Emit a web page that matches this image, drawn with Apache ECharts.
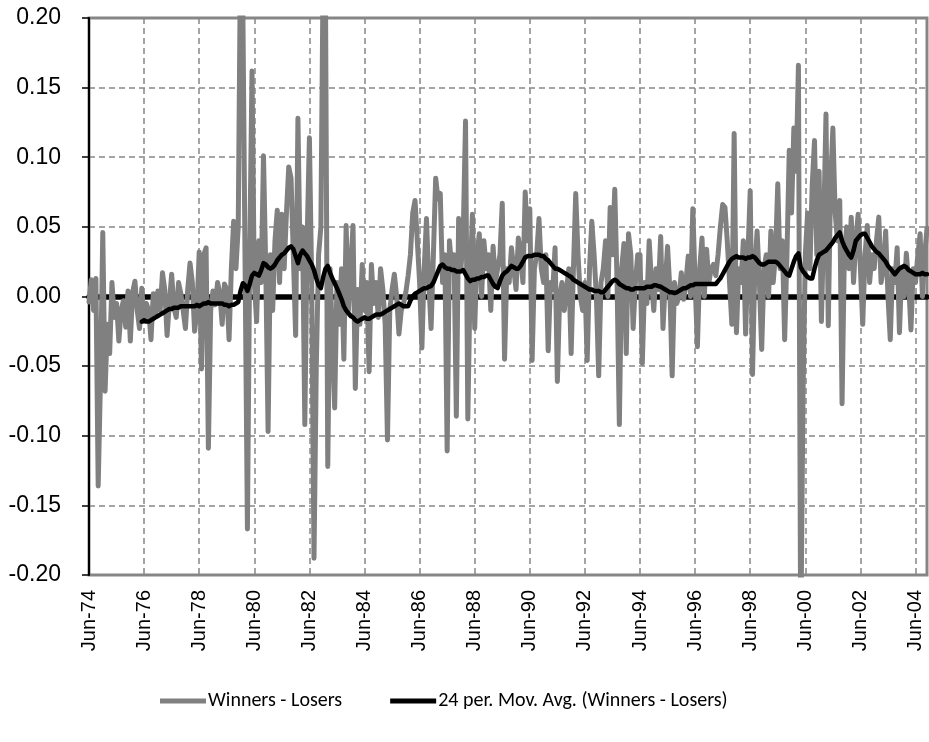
<!DOCTYPE html>
<html><head><meta charset="utf-8">
<script src="https://cdn.jsdelivr.net/npm/echarts@6/dist/echarts.min.js"></script>
<style>html,body{margin:0;padding:0;background:#fff}#chart{width:929px;height:742px}</style>
</head><body><div id="chart"></div>
<script>
// ---- categories (monthly, Jun-74 .. Nov-04) ----
const monthNames = ['Jan','Feb','Mar','Apr','May','Jun','Jul','Aug','Sep','Oct','Nov','Dec'];
const startYear = 1974, startMonthIdx = 5, monthCount = 366;
const categories = [];
for (let i = 0; i < monthCount; i++) {
  const t = startMonthIdx + i;
  const yy = (startYear + Math.floor(t / 12)) % 100;
  categories.push(monthNames[t % 12] + '-' + String(yy).padStart(2, '0'));
}
const tickLabels = ['Jun-74','Jun-76','Jun-78','Jun-80','Jun-82','Jun-84','Jun-86','Jun-88','Jun-90','Jun-92','Jun-94','Jun-96','Jun-98','Jun-00','Jun-02','Jun-04'];
const yTicks = [-0.20,-0.15,-0.10,-0.05,0.00,0.05,0.10,0.15,0.20];

// ---- series: Winners - Losers (monthly) ----
const winnersLosers = [
  -0.004, 0.012,-0.010, 0.013,-0.136,-0.060, 0.046,-0.068,-0.020,-0.041, 0.010,-0.015,
  -0.005,-0.032,-0.010,-0.003,-0.022, 0.004,-0.032, 0.003, 0.011,-0.010,-0.023, 0.006,
  -0.018,-0.005,-0.010,-0.031, 0.002,-0.012, 0.004,-0.010, 0.017, 0.005,-0.028,-0.005,
   0.016,-0.008,-0.015, 0.010, 0.002,-0.010,-0.023, 0.005, 0.024, 0.010,-0.025,-0.010,
   0.032,-0.052, 0.030, 0.035,-0.109,-0.010, 0.004,-0.006, 0.010, 0.002,-0.020, 0.009,
   0.005,-0.031, 0.020, 0.054, 0.020, 0.050, 0.250, 0.210, 0.020,-0.167, 0.030, 0.162,
   0.010,-0.018, 0.040, 0.010, 0.101, 0.020,-0.097, 0.030,-0.010, 0.040, 0.062, 0.010,
   0.059, 0.020, 0.060, 0.093, 0.085, 0.030,-0.028, 0.128, 0.020, 0.050,-0.092, 0.040,
   0.114, 0.010,-0.188,-0.050, 0.030, 0.050, 0.240, 0.220,-0.122, 0.020,-0.030,-0.080,
   0.010,-0.020, 0.020,-0.045, 0.051,-0.010, 0.020, 0.051,-0.066, 0.005,-0.020, 0.023,
  -0.010, 0.010,-0.054, 0.023,-0.005, 0.010,-0.015, 0.020, 0.005,-0.020,-0.103,-0.010,
   0.005, 0.016, 0.000,-0.027,-0.010,-0.005, 0.003, 0.015, 0.030, 0.060, 0.069, 0.040,
   0.010,-0.037, 0.020, 0.056, 0.010,-0.023, 0.030, 0.085, 0.070, 0.074, 0.010, 0.030,
  -0.111, 0.040, 0.020, 0.030,-0.086, 0.056, 0.020, 0.045, 0.126,-0.088, 0.010, 0.059,
  -0.023, 0.030, 0.045, 0.000, 0.040, 0.020, 0.030,-0.010, 0.036, 0.010, 0.020, 0.030,
   0.067,-0.045, 0.020, 0.010, 0.035, 0.020, 0.005, 0.042, 0.030, 0.010, 0.075, 0.040,
   0.063,-0.046, 0.020, 0.030, 0.056, 0.020, 0.010, 0.030,-0.039, 0.010, 0.005, 0.035,
  -0.061, 0.000, 0.010,-0.010, 0.005, 0.020,-0.041, 0.020, 0.074, 0.030, 0.000,-0.010,
   0.010,-0.046, 0.020, 0.054, 0.030, 0.000,-0.057, 0.010, 0.020, 0.040, 0.000, 0.064,
   0.030, 0.077, 0.010,-0.092, 0.020, 0.038,-0.041, 0.045, 0.030,-0.023, 0.010, 0.030,
   0.030,-0.048, 0.010,-0.005, 0.040, 0.010,-0.010, 0.020, 0.005, 0.043,-0.023, 0.010,
   0.036, 0.005,-0.057, 0.010,-0.005, 0.000, 0.017,-0.002, 0.010, 0.029, 0.000, 0.063,
   0.010,-0.036, 0.020, 0.042, 0.000, 0.034, 0.010, 0.020, 0.023, 0.015, 0.030, 0.050,
   0.066, 0.064, 0.040, 0.010,-0.020, 0.117,-0.026, 0.020, 0.010, 0.040,-0.027, 0.030,
   0.076,-0.056, 0.020, 0.047, 0.010,-0.038, 0.020, 0.030, 0.000, 0.047, 0.010, 0.030,
   0.081, 0.020, 0.040,-0.031, 0.030, 0.105, 0.060, 0.121, 0.090, 0.166,-0.250,-0.070,
   0.030, 0.060, 0.020, 0.080, 0.112, 0.030, 0.090,-0.018, 0.050, 0.131,-0.021, 0.080,
   0.121, 0.060, 0.040, 0.069,-0.077, 0.030, 0.050, 0.020, 0.057, 0.010, 0.040, 0.059,
   0.020,-0.020, 0.030, 0.051, 0.010, 0.030, 0.020, 0.040, 0.057, 0.010, 0.020, 0.047,
   0.000,-0.031, 0.020, 0.010, 0.035,-0.026, 0.020, 0.000, 0.031, 0.010,-0.024, 0.020,
   0.010, 0.030, 0.045, 0.000, 0.030, 0.049
];

// ---- series: 24 per. moving average (starts at the 24th month) ----
const movAvgStart = 23;
const movAvg = [
  -0.018,-0.017,-0.018,-0.018,-0.017,-0.016,-0.015,-0.014,-0.013,-0.012,-0.011,-0.010,-0.009,
  -0.009,-0.008,-0.008,-0.008,-0.007,-0.007,-0.007,-0.007,-0.007,-0.007,-0.007,-0.006,
  -0.007,-0.006,-0.005,-0.005,-0.004,-0.005,-0.005,-0.005,-0.005,-0.005,-0.005,-0.006,
  -0.006,-0.007,-0.006,-0.006,-0.005,-0.004, 0.004, 0.0095,0.008, 0.004, 0.009, 0.015,
   0.017, 0.016, 0.015, 0.019, 0.024, 0.023, 0.021, 0.020, 0.021, 0.023, 0.026, 0.028,
   0.030, 0.031, 0.033, 0.035, 0.036, 0.034, 0.029, 0.024, 0.030, 0.033, 0.031, 0.029,
   0.026, 0.023, 0.019, 0.013, 0.008, 0.006, 0.014, 0.020, 0.022, 0.017, 0.013, 0.0095,
   0.006, 0.002,-0.002,-0.007,-0.010,-0.012,-0.014,-0.015,-0.017,-0.018,-0.017,-0.016,
  -0.015,-0.016,-0.016,-0.015,-0.014,-0.013,-0.013,-0.013,-0.012,-0.011,-0.010,-0.009,
  -0.008,-0.007,-0.006,-0.005,-0.006,-0.007,-0.007,-0.007,-0.003, 0.000, 0.002, 0.003,
   0.004, 0.005, 0.006, 0.006, 0.007, 0.0075,0.010, 0.014, 0.018, 0.022, 0.023, 0.021,
   0.020, 0.020, 0.019, 0.019, 0.018, 0.018, 0.018, 0.019, 0.016, 0.013, 0.011, 0.012,
   0.012, 0.013, 0.013, 0.014, 0.014, 0.015, 0.015, 0.012, 0.009, 0.007, 0.006, 0.011,
   0.015, 0.017, 0.018, 0.020, 0.022, 0.021, 0.020, 0.020, 0.022, 0.025, 0.028, 0.029,
   0.029, 0.029, 0.030, 0.030, 0.030, 0.029, 0.029, 0.027, 0.026, 0.024, 0.022, 0.020,
   0.020, 0.019, 0.018, 0.017, 0.016, 0.015, 0.014, 0.012, 0.011, 0.010, 0.009, 0.008,
   0.007, 0.006, 0.005, 0.005, 0.004, 0.004, 0.004, 0.003, 0.003, 0.005, 0.007, 0.009,
   0.011, 0.012, 0.011, 0.009, 0.008, 0.007, 0.006, 0.006, 0.005, 0.005, 0.006, 0.006,
   0.006, 0.006, 0.006, 0.007, 0.007, 0.007, 0.008, 0.008, 0.0075,0.007, 0.006, 0.005,
   0.004, 0.003, 0.003, 0.0025,0.003, 0.004, 0.005, 0.006, 0.006, 0.007, 0.008, 0.008,
   0.009, 0.009, 0.009, 0.009, 0.009, 0.009, 0.009, 0.009, 0.009, 0.009, 0.011, 0.013,
   0.016, 0.019, 0.022, 0.025, 0.027, 0.028, 0.029, 0.028, 0.028, 0.028, 0.027, 0.028,
   0.028, 0.029, 0.028, 0.026, 0.024, 0.023, 0.023, 0.024, 0.025, 0.025, 0.025, 0.025,
   0.024, 0.022, 0.020, 0.018, 0.016, 0.015, 0.020, 0.025, 0.029, 0.031, 0.021, 0.018,
   0.016, 0.014, 0.013, 0.013, 0.020, 0.026, 0.030, 0.031, 0.032, 0.033, 0.035, 0.037,
   0.039, 0.042, 0.044, 0.046, 0.040, 0.036, 0.033, 0.030, 0.028, 0.033, 0.040, 0.042,
   0.044, 0.045, 0.045, 0.042, 0.039, 0.036, 0.034, 0.032, 0.031, 0.029, 0.027, 0.025,
   0.022, 0.020, 0.018, 0.016, 0.018, 0.020, 0.021, 0.022, 0.021, 0.019, 0.018, 0.017,
   0.016, 0.016, 0.016, 0.017, 0.016, 0.016
];

const seriesNames = ['Winners - Losers', '24 per. Mov. Avg. (Winners - Losers)'];

const movAvgData = categories.map((c, i) => (i < movAvgStart ? null : movAvg[i - movAvgStart]));

const chart = echarts.init(document.getElementById('chart'), null, { renderer: 'canvas' });
const gridLine = { show: true, lineStyle: { color: '#868686', width: 1.5, type: [6, 4] } };
chart.setOption({
  animation: false,
  backgroundColor: '#fff',
  grid: { left: 89, right: 2, top: 18, bottom: 167, show: true, borderColor: '#868686', borderWidth: 3, backgroundColor: 'transparent' },
  legend: {
    left: 155, top: 686, itemWidth: 46, itemHeight: 5, itemGap: 48, icon: 'rect',
    textStyle: { fontSize: 20, fontFamily: 'Carlito, Lato, "Open Sans", sans-serif', color: '#000', padding: [0, 0, 0, -3] },
    data: seriesNames
  },
  xAxis: [
    {
      type: 'category', data: categories, boundaryGap: false, position: 'bottom',
      axisLine: { show: false, onZero: false }, axisTick: { show: false },
      axisLabel: {
        interval: 23, rotate: 90, fontSize: 20, margin: 15, color: '#000',
        fontFamily: '"Liberation Sans", Arial, sans-serif',
        formatter: v => (tickLabels.indexOf(v) >= 0 ? v : '')
      },
      splitLine: Object.assign({ interval: 23 }, gridLine)
    },
    {
      type: 'category', data: categories, boundaryGap: false, position: 'top', z: 1.5,
      axisLine: { show: true, onZero: true, lineStyle: { color: '#000', width: 5.5 } },
      axisTick: { show: false }, axisLabel: { show: false }, splitLine: { show: false }
    }
  ],
  yAxis: {
    type: 'value', min: yTicks[0], max: yTicks[yTicks.length - 1], interval: 0.05, z: 1,
    axisLine: { show: true, lineStyle: { color: '#000', width: 2 } },
    axisTick: { show: true, length: 7, lineStyle: { color: '#000', width: 1.5 } },
    axisLabel: { fontSize: 23, margin: 28, color: '#000', fontFamily: '"Liberation Sans", Arial, sans-serif', formatter: v => v.toFixed(2) },
    splitLine: gridLine
  },
  series: [
    {
      name: seriesNames[0], type: 'line', data: winnersLosers, xAxisIndex: 0, symbol: 'none', z: 2,
      color: '#808080', lineStyle: { color: '#808080', width: 5, join: 'round', cap: 'round' }
    },
    {
      name: seriesNames[1], type: 'line', data: movAvgData, xAxisIndex: 0, symbol: 'none', z: 3, connectNulls: false,
      color: '#000', lineStyle: { color: '#000', width: 4.5, join: 'round', cap: 'round' }
    }
  ]
});
</script></body></html>
